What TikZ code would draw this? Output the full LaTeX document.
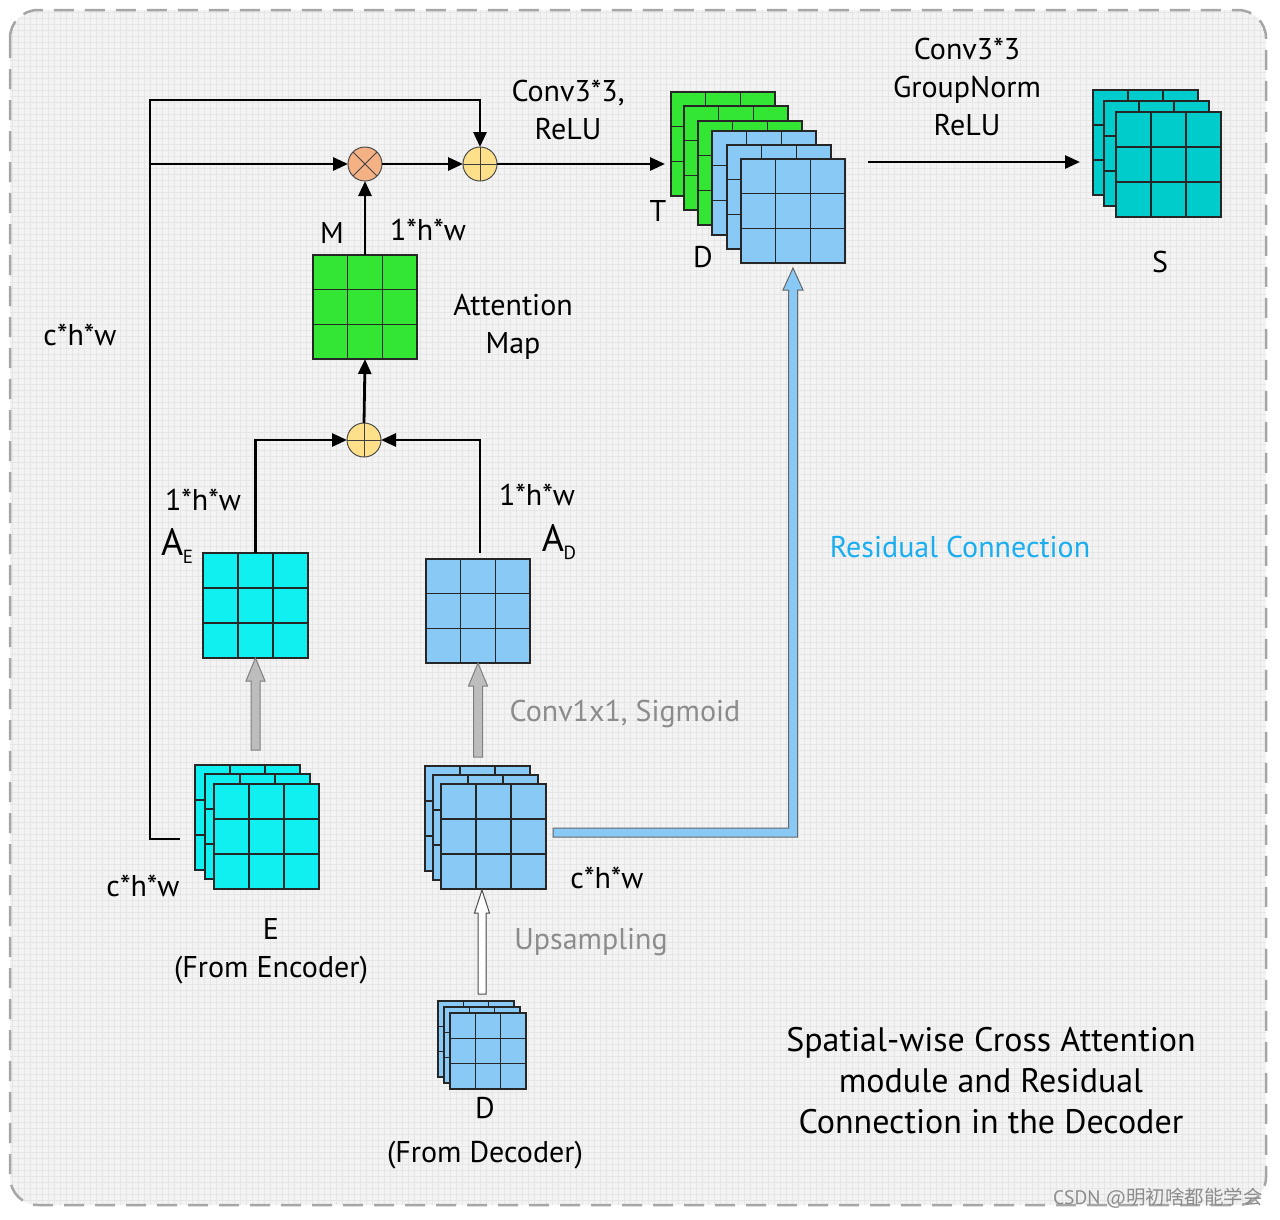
\documentclass[tikz,border=0pt]{standalone}
\usepackage{fontspec}
\setmainfont{PT Sans}
\newfontfamily\cjk{Noto Sans CJK SC}
\usetikzlibrary{arrows.meta,calc}
\definecolor{cgreen}{HTML}{33E633}
\definecolor{ccyan}{HTML}{11F0F0}
\definecolor{cblue}{HTML}{88C9F5}
\definecolor{cteal}{HTML}{00CCCC}
\definecolor{corange}{HTML}{F4B183}
\definecolor{cyellow}{HTML}{FFE08A}
\definecolor{cres}{HTML}{1AAEF0}
\definecolor{cgtxt}{HTML}{8C8C8C}
\definecolor{cbg}{HTML}{F3F3F3}
\definecolor{cgridbg}{HTML}{E6E6E6}
\definecolor{cborder}{HTML}{A6A6A6}
\definecolor{cfat}{HTML}{BDBDBD}
\definecolor{cfatline}{HTML}{7F7F7F}
\newcommand\cellgrid[5]{%
  \node[gridbox,fill=#5,minimum size=#4pt] (#1) at ({#2+#4/2},{#3+#4/2}) {};
  \draw[gridline] ($(#1.north west)!1/3!(#1.north east)$) -- ($(#1.south west)!1/3!(#1.south east)$);
  \draw[gridline] ($(#1.north west)!2/3!(#1.north east)$) -- ($(#1.south west)!2/3!(#1.south east)$);
  \draw[gridline] ($(#1.north west)!1/3!(#1.south west)$) -- ($(#1.north east)!1/3!(#1.south east)$);
  \draw[gridline] ($(#1.north west)!2/3!(#1.south west)$) -- ($(#1.north east)!2/3!(#1.south east)$);
}
% tip, tail, shaft half width, head half width, head length, style
\newcommand\fatup[6]{%
  \draw[#6] ($(#2)+(-#3,0)$) -- ($(#1)+(-#3,#5)$) -- ($(#1)+(-#4,#5)$) -- (#1)
    -- ($(#1)+(#4,#5)$) -- ($(#1)+(#3,#5)$) -- ($(#2)+(#3,0)$) -- cycle;
}
\tikzset{
  gridbox/.style={draw=black!85,line width=1.2pt,inner sep=0pt,outer sep=0pt,rectangle},
  gridline/.style={draw=black!85,line width=1.3pt},
  arr/.style={-{Triangle[length=15pt,width=13pt]},line width=2.8pt,line join=miter},
  opnode/.style={circle,draw=black!70,line width=1pt,minimum size=34pt,inner sep=0pt,outer sep=0pt},
  oplines/.style={draw=black!75,line width=1pt},
  lbl/.style={font=\fontsize{30pt}{38pt}\selectfont,align=center,inner sep=0pt},
  big/.style={font=\fontsize{34pt}{41pt}\selectfont,align=center,inner sep=0pt},
  wm/.style={font=\fontsize{19.5pt}{22pt}\selectfont,text=black!45,inner sep=0pt},
  fatgray/.style={fill=cfat,draw=cfatline,line width=1pt,line join=miter},
  fatwhite/.style={fill=white,draw=black!70,line width=1pt,line join=miter},
  fatblue/.style={fill=cblue,draw=black!60,line width=1pt,line join=miter},
}
\begin{document}
\begin{tikzpicture}[x=1pt,y=-1pt]
\useasboundingbox (0,0) rectangle (1280,1219);
% background
\begin{scope}
\clip[rounded corners=28pt] (10,10) rectangle (1266,1205);
\fill[cbg] (10,10) rectangle (1266,1205);
\foreach \i in {0,...,209} {\draw[cgridbg,line width=0.4pt] ({12+6*\i},10) -- ({12+6*\i},1205);}
\foreach \j in {0,...,199} {\draw[cgridbg,line width=0.4pt] (10,{12+6*\j}) -- (1266,{12+6*\j});}
\end{scope}
\draw[cborder,line width=2.5pt,dash pattern=on 20pt off 11pt,rounded corners=28pt] (10,10) rectangle (1266,1205);

% operators
\node[opnode,fill=corange] (X) at (365,164) {};
\draw[oplines] (X.north west) -- (X.south east) (X.north east) -- (X.south west);
\node[opnode,fill=cyellow] (P1) at (480,164) {};
\draw[oplines] (P1.north) -- (P1.south) (P1.west) -- (P1.east);
\node[opnode,fill=cyellow] (P2) at (364,440) {};
\draw[oplines] (P2.north) -- (P2.south) (P2.west) -- (P2.east);

% grids
\cellgrid{M}{313}{255}{104}{cgreen}
\cellgrid{AE}{203}{553}{105}{ccyan}
\cellgrid{AD}{426}{559}{104}{cblue}
\cellgrid{E1}{195}{765}{105}{ccyan}
\cellgrid{E2}{205}{774}{105}{ccyan}
\cellgrid{E3}{214}{784}{105}{ccyan}
\cellgrid{Dc1}{425}{766}{105}{cblue}
\cellgrid{Dc2}{433}{775}{105}{cblue}
\cellgrid{Dc3}{441}{784}{105}{cblue}
\cellgrid{T1}{671}{92}{104}{cgreen}
\cellgrid{T2}{684}{106}{104}{cgreen}
\cellgrid{T3}{698}{121}{104}{cgreen}
\cellgrid{D1}{712}{131}{104}{cblue}
\cellgrid{D2}{727}{145}{104}{cblue}
\cellgrid{D3}{741}{159}{104}{cblue}
\cellgrid{S1}{1093}{90}{105}{cteal}
\cellgrid{S2}{1104}{101}{105}{cteal}
\cellgrid{S3}{1116}{112}{105}{cteal}
\cellgrid{Ds1}{438}{1001}{76}{cblue}
\cellgrid{Ds2}{444}{1007}{76}{cblue}
\cellgrid{Ds3}{450}{1013}{76}{cblue}

% black connectors
\coordinate (Lend) at (180,839);
\coordinate (Lb) at (150,839);
\coordinate (Ltop) at (150,100);
\draw[arr] (Lend) -- (Lb) -- (Ltop) -| (P1.north);
\draw[arr] (Lb |- X.west) -- (X.west);
\draw[arr] (X.east) -- (P1.west);
\draw[arr] (M.north) -- (X.south);
\draw[arr] (P1.east) -- ($(T1.west |- P1.east)+(-6,0)$);
\draw[arr] (P2.north) -- (M.south);
\draw[arr] (AE.north) -- (AE.north |- P2.west) -- (P2.west);
\draw[arr] ($(AD.north)+(2,-6)$) -- ($(AD.north |- P2.east)+(2,0)$) -- (P2.east);
\coordinate (sa) at (868,162);
\draw[arr] (sa) -- ($(S1.west |- sa)+(-13,0)$);

% fat arrows
\coordinate (g1tip) at (AE.south);
\coordinate (g1tail) at ($(AE.south)+(0,92)$);
\fatup{g1tip}{g1tail}{4.5}{9.5}{23}{fatgray}
\coordinate (g2tip) at (AD.south);
\coordinate (g2tail) at ($(AD.south)+(0,94)$);
\fatup{g2tip}{g2tail}{4.5}{9.5}{23}{fatgray}
\coordinate (uptip) at ($(Dc3.south)+(-11.5,1)$);
\coordinate (uptail) at ($(uptip |- Ds1.north)+(0,-7)$);
\fatup{uptip}{uptail}{4}{7.5}{23}{fatwhite}
% residual connection
\coordinate (rtail) at ($(Dc3.east)+(7,-4)$);
\coordinate (rtip) at ($(D3.south)+(0,5)$);
\coordinate (rc) at (rtip |- rtail);
\draw[fatblue] ($(rtail)+(0,-4.5)$) -- ($(rc)+(-4.5,-4.5)$) -- ($(rtip)+(-4.5,22)$) -- ($(rtip)+(-10,22)$) -- (rtip)
  -- ($(rtip)+(10,22)$) -- ($(rtip)+(4.5,22)$) -- ($(rc)+(4.5,4.5)$) -- ($(rtail)+(0,4.5)$) -- cycle;

% labels
\node[lbl] (l1) at (568,110) {Conv3*3,\\ReLU};
\node[lbl] (l2) at (967,87) {Conv3*3\\GroupNorm\\ReLU};
\node[lbl] (lT) at (658,211) {T};
\node[lbl] (lD) at (703,257) {D};
\node[lbl] (lS) at (1160,262) {S};
\node[lbl] (lM) at (332,233) {M};
\node[lbl] (lm1) at (428,230) {1*h*w};
\node[lbl] (latt) at (513,327) {Attention\\Map};
\node[lbl] (lc1) at (80,335) {c*h*w};
\node[lbl] (lae1) at (203,500) {1*h*w};
\node[lbl] (lad1) at (537,495) {1*h*w};
\node[inner sep=0pt] (lae) at (177,546) {\fontsize{38pt}{40pt}\selectfont A\kern-0.5pt\raisebox{-8pt}{\fontsize{19pt}{20pt}\selectfont E}};
\node[inner sep=0pt] (lad) at (559,542) {\fontsize{38pt}{40pt}\selectfont A\kern-0.5pt\raisebox{-8pt}{\fontsize{19pt}{20pt}\selectfont D}};
\node[lbl,text=cres] (lres) at (960,547) {Residual Connection};
\node[lbl,text=cgtxt] (lconv) at (625,714) {Conv1x1, Sigmoid};
\node[lbl] (lc2) at (143,886) {c*h*w};
\node[lbl] (lc3) at (607,878) {c*h*w};
\node[lbl] (lE) at (271,951) {E\\(From Encoder)};
\node[lbl,text=cgtxt] (lup) at (591,942) {Upsampling};
\node[lbl,font=\fontsize{30pt}{44pt}\selectfont] (lDd) at (485,1133) {D\\(From Decoder)};
\node[big] (ltitle) at (991,1081) {Spatial-wise Cross Attention\\module and Residual\\Connection in the Decoder};
\node[wm] (lwm) at (1158,1198) {CSDN @{\cjk 明初啥都能学会}};
\end{tikzpicture}
\end{document}
